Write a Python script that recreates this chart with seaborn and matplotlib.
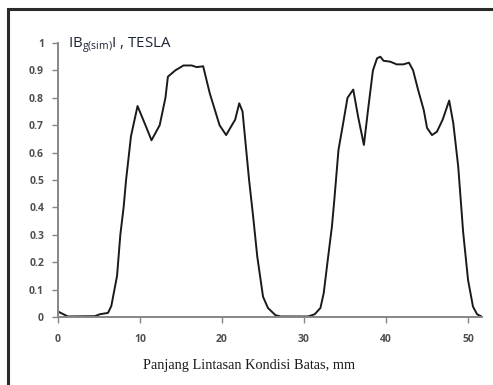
import matplotlib
matplotlib.use("Agg")
import matplotlib.pyplot as plt
import seaborn as sns
import pandas as pd
from matplotlib.patches import Rectangle

# Data
panjang_mm = [0, 1.2, 4.5, 5.1, 6.1, 6.5, 7.2, 7.6, 8.0, 8.3, 8.9, 9.7, 10.8, 11.4, 12.4,
              13.1, 13.4, 14.3, 15.3, 16.3, 16.9, 17.7, 18.5, 19.7, 20.5, 21.2, 21.6, 22.1,
              22.5, 23.3, 23.8, 24.3, 25.0, 25.6, 26.5, 27.1, 30.5, 31.3, 32.0, 32.4, 32.9,
              33.4, 33.7, 34.2, 34.7, 35.3, 36.0, 36.6, 37.3, 37.8, 38.4, 38.9, 39.3, 39.7,
              40.5, 41.3, 42.1, 42.8, 43.3, 43.9, 44.6, 45.0, 45.6, 46.2, 46.9, 47.7, 48.2,
              48.8, 49.1, 49.4, 50.0, 50.6, 51.1, 51.7]
bg_tesla = [0.02, 0.002, 0.003, 0.01, 0.015, 0.04, 0.15, 0.30, 0.40, 0.50, 0.66, 0.77, 0.69,
            0.645, 0.70, 0.80, 0.877, 0.90, 0.918, 0.918, 0.912, 0.915, 0.817, 0.70, 0.664,
            0.70, 0.72, 0.78, 0.75, 0.50, 0.365, 0.22, 0.074, 0.033, 0.007, 0.002, 0.002,
            0.01, 0.033, 0.087, 0.21, 0.33, 0.43, 0.61, 0.695, 0.80, 0.83, 0.73, 0.628, 0.755,
            0.90, 0.944, 0.95, 0.935, 0.932, 0.922, 0.922, 0.928, 0.90, 0.83, 0.755, 0.69,
            0.664, 0.676, 0.72, 0.79, 0.707, 0.549, 0.43, 0.31, 0.135, 0.038, 0.01, 0.001]
x_ticks = [0, 10, 20, 30, 40, 50]
y_ticks = [0, 0.1, 0.2, 0.3, 0.4, 0.5, 0.6, 0.7, 0.8, 0.9, 1]
y_ticklabels = ["0", "0.1", "0.2", "0.3", "0.4", "0.5", "0.6", "0.7", "0.8", "0.9", "1"]

df = pd.DataFrame({"x": panjang_mm, "y": bg_tesla})

sns.set_style("ticks")
fig = plt.figure(figsize=(4.93, 3.85), dpi=100)
ax = fig.add_axes([58/493, 1-317/385, (482-58)/493, (317-43)/385])

sns.lineplot(data=df, x="x", y="y", ax=ax, color="#1a1a1a", linewidth=1.4)

ax.set_xlim(0, 51.7)
ax.set_ylim(0, 1)
ax.set_xticks(x_ticks)
ax.set_xticklabels([str(t) for t in x_ticks])
ax.set_yticks(y_ticks)
ax.set_yticklabels(y_ticklabels)

for s in ["top", "right"]:
    ax.spines[s].set_visible(False)
for s in ["left", "bottom"]:
    ax.spines[s].set_color("#868686")
    ax.spines[s].set_linewidth(1.4)

ax.tick_params(axis="both", colors="#868686", length=4, width=1.0, labelsize=7.5,
               labelcolor="#505050")
ax.tick_params(axis="x", pad=8)
ax.tick_params(axis="y", pad=6)
for lab in ax.get_xticklabels() + ax.get_yticklabels():
    lab.set_fontweight("bold")
    lab.set_family(["Open Sans", "DejaVu Sans"])

ax.set_xlabel("")
ax.set_ylabel("")

fig.text(249/493, 1-365/385, "Panjang Lintasan Kondisi Batas, mm", ha="center", va="center",
         family="Liberation Serif", fontsize=10.3, color="#1a1a1a")

fig.text(68/493, 1-45/385, r"I$\mathregular{B_{g(sim)}}$I , TESLA", ha="left", va="center",
         family=["Open Sans", "DejaVu Sans"], fontsize=10.8, color="#1c2436")

# Outer frame (top and left visible)
frame = Rectangle((8/493, -0.1), 1.2, 1 - 9/385 + 0.1, transform=fig.transFigure,
                  fill=False, edgecolor="#2a2a2a", linewidth=2.2)
fig.add_artist(frame)

fig.savefig("out.png", dpi=100)
